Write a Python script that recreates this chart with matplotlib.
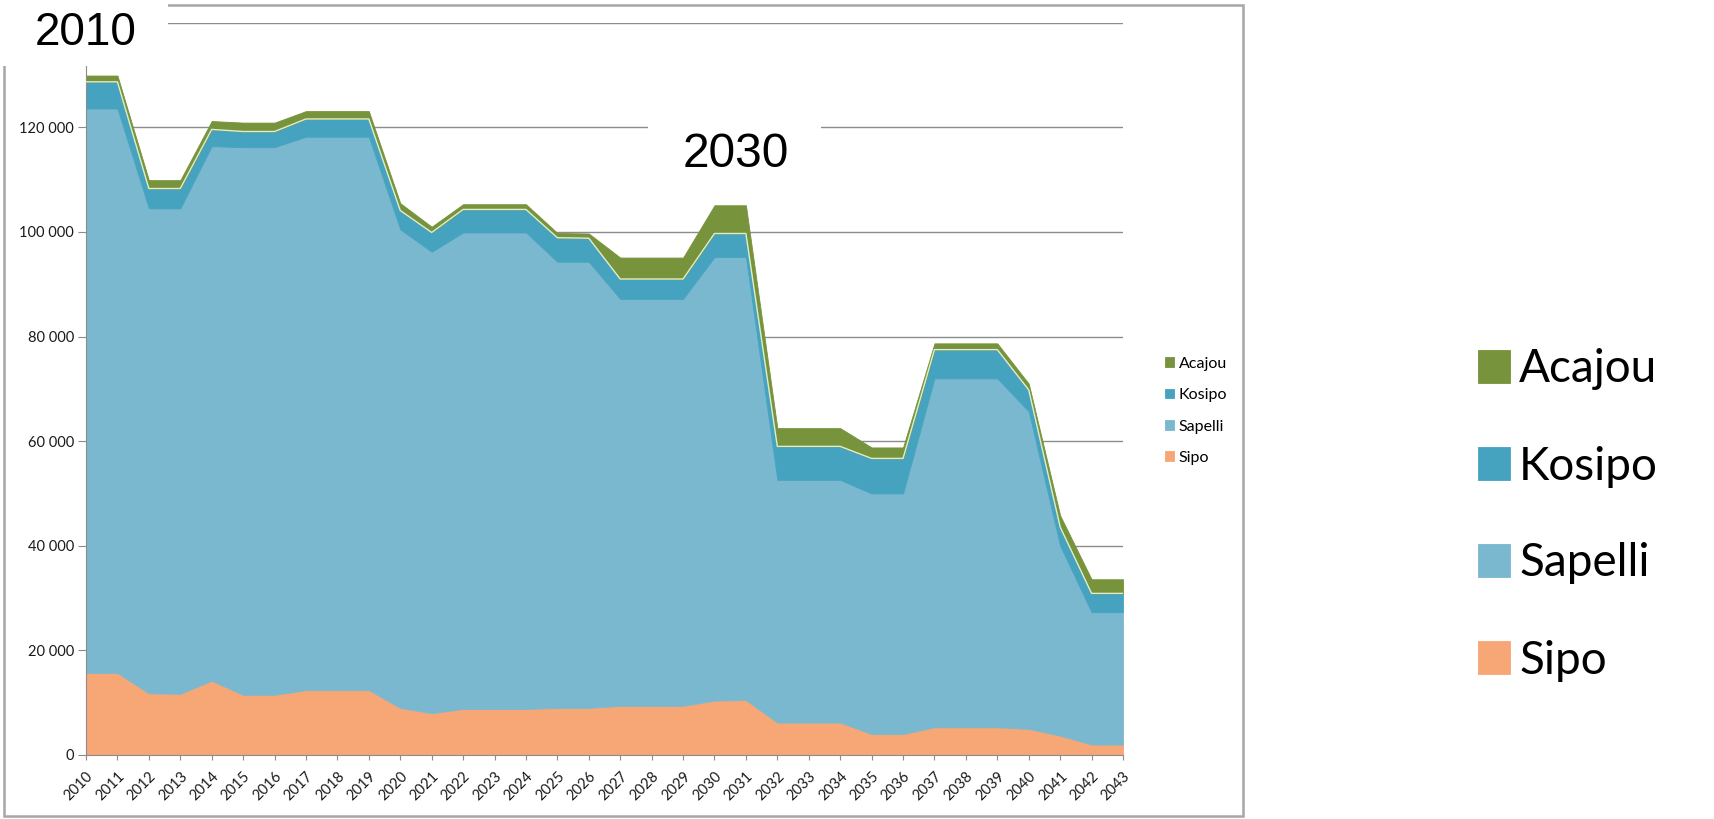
import matplotlib
matplotlib.use('Agg')
import matplotlib.pyplot as plt
from matplotlib.patches import Rectangle
from matplotlib.ticker import FuncFormatter
import numpy as np

# Volumes per species, stacked bottom to top
years = list(range(2010, 2044))
sipo = [15700, 15700, 11800, 11700, 14200, 11500, 11500, 12400, 12400, 12400,
        9000, 8000, 8800, 8800, 8800, 9000, 9000, 9400, 9400, 9400,
        10400, 10500, 6200, 6200, 6200, 4000, 4000, 5300, 5300, 5300,
        5000, 3700, 2000, 2000]
sapelli = [107900, 107900, 92700, 92800, 102200, 104700, 104700, 105800, 105800, 105800,
           91500, 88200, 91100, 91100, 91100, 85300, 85300, 77800, 77800, 77800,
           84800, 84700, 46400, 46400, 46400, 46000, 46000, 66700, 66700, 66700,
           60700, 36300, 25300, 25300]
kosipo = [5100, 5100, 3800, 3800, 3200, 3000, 3000, 3400, 3400, 3400,
          3600, 3700, 4400, 4400, 4400, 4600, 4500, 3800, 3800, 3800,
          4500, 4500, 6400, 6400, 6400, 6700, 6700, 5500, 5500, 5500,
          4100, 3600, 3600, 3600]
acajou = [1200, 1200, 1600, 1600, 1600, 1700, 1700, 1500, 1500, 1500,
          1400, 1100, 1000, 1000, 1000, 900, 900, 4100, 4100, 4100,
          5400, 5400, 3500, 3500, 3500, 2100, 2100, 1200, 1200, 1200,
          1200, 2200, 2700, 2700]
species = ['Sipo', 'Sapelli', 'Kosipo', 'Acajou']
colors = ['#F6A775', '#7AB8CF', '#46A3BF', '#77933C']

W, H = 1715, 819
fig = plt.figure(figsize=(W / 100, H / 100), dpi=100)
ax = fig.add_axes([86 / W, 1 - 755 / H, (1123 - 86) / W, (755 - 22.7) / H])

polys = ax.stackplot(years, sipo, sapelli, kosipo, acajou,
                     colors=colors, labels=species)
for p in polys:
    p.set_edgecolor(p.get_facecolor())
    p.set_linewidth(0.6)

# pale seam on top of the Kosipo layer
kos_top = np.array(sipo) + np.array(sapelli) + np.array(kosipo)
ax.plot(years, kos_top, color='#e2ecc8', lw=1.0, zorder=3)

ax.set_xlim(2010, 2043)
ax.set_ylim(0, 140000)
ax.set_yticks(range(0, 120001, 20000))
ax.set_yticks([140000], minor=True)
ax.yaxis.set_major_formatter(FuncFormatter(lambda v, _: f"{v:,.0f}".replace(",", " ")))
ax.set_xticks(years, labels=[str(y) for y in years], rotation=45, ha='right',
              rotation_mode='anchor')
for lab in ax.get_xticklabels() + ax.get_yticklabels():
    lab.set_family('Lato')
    lab.set_fontsize(10.5)
    lab.set_color('#1a1a1a')

ax.yaxis.grid(True, which='both', color='#8c8c8c', lw=1.0)
ax.set_axisbelow(True)
for side in ['top', 'right']:
    ax.spines[side].set_visible(False)
for side in ['left', 'bottom']:
    ax.spines[side].set_color('#8c8c8c')
ax.tick_params(axis='y', which='both', length=5.5, color='#8c8c8c', pad=3)
ax.tick_params(axis='x', length=3.4, color='#8c8c8c', pad=7)

# chart frame
fig.add_artist(Rectangle((4 / W, 1 - 816 / H), (1243 - 4) / W, (816 - 5) / H,
                         transform=fig.transFigure, fill=False,
                         ec='#a6a6a6', lw=1.8, zorder=5))

# legend inside the frame
fig.legend(handles=polys[::-1], labels=species[::-1], loc='center left',
           bbox_to_anchor=(1165 / W, 1 - 410.8 / H), frameon=False,
           prop={'family': 'Lato', 'size': 11.5}, handlelength=0.56,
           handleheight=0.56, handletextpad=0.3, labelspacing=1.09,
           borderpad=0, borderaxespad=0)

# large legend on the right
fig.legend(handles=polys[::-1], labels=species[::-1], loc='center left',
           bbox_to_anchor=(1478 / W, 1 - 515 / H), frameon=False,
           prop={'family': 'Lato', 'size': 33}, handlelength=0.7,
           handleheight=0.7, handletextpad=0.2, labelspacing=1.2,
           borderpad=0, borderaxespad=0)

# year captions on white boxes
fig.add_artist(Rectangle((0, 1 - 66 / H), 168 / W, 66 / H, transform=fig.transFigure,
                         fc='white', ec='none', zorder=10))
fig.text(85.5 / W, 1 - 45 / H, '2010', ha='center', va='baseline',
         fontsize=33, family='Liberation Sans', zorder=11)
fig.add_artist(Rectangle((648 / W, 1 - 190 / H), (821 - 648) / W, 80 / H,
                         transform=fig.transFigure, fc='white', ec='none', zorder=10))
fig.text(736 / W, 1 - 167 / H, '2030', ha='center', va='baseline',
         fontsize=34.5, family='Liberation Sans', zorder=11)

fig.savefig('out.png', dpi=100)
